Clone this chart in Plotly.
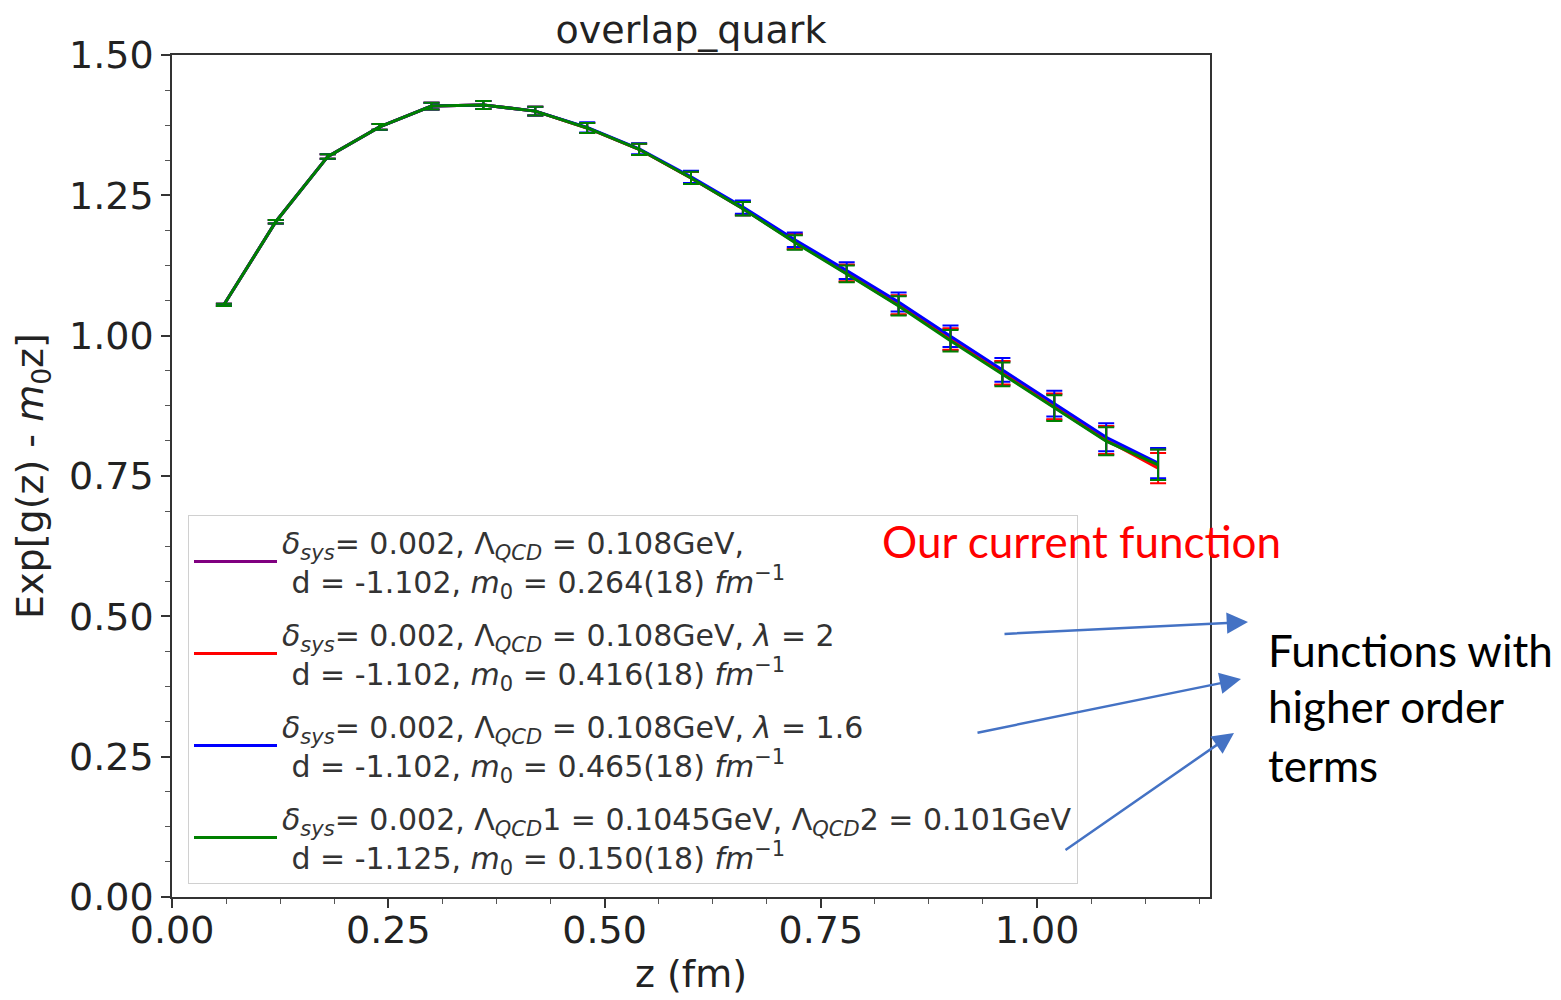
import plotly.graph_objects as go

z = [0.06, 0.12, 0.18, 0.24, 0.30, 0.36, 0.42, 0.48, 0.54, 0.60,
     0.66, 0.72, 0.78, 0.84, 0.90, 0.96, 1.02, 1.08, 1.14]

purple_vals = [1.055, 1.203, 1.319, 1.372, 1.409, 1.411, 1.400, 1.370, 1.332, 1.281,
               1.226, 1.167, 1.111, 1.054, 0.993, 0.933, 0.873, 0.813, 0.770]
red_vals = [1.055, 1.203, 1.319, 1.372, 1.409, 1.411, 1.400, 1.370, 1.332, 1.281,
            1.227, 1.168, 1.112, 1.055, 0.994, 0.934, 0.874, 0.814, 0.764]
blue_vals = [1.055, 1.203, 1.319, 1.372, 1.409, 1.411, 1.400, 1.371, 1.333, 1.283,
             1.229, 1.171, 1.116, 1.060, 0.999, 0.939, 0.879, 0.819, 0.773]
green_vals = [1.055, 1.203, 1.319, 1.372, 1.409, 1.411, 1.400, 1.370, 1.332, 1.281,
              1.226, 1.166, 1.110, 1.053, 0.991, 0.931, 0.871, 0.812, 0.770]
errors = [0.002, 0.003, 0.004, 0.005, 0.006, 0.007, 0.008, 0.009, 0.010, 0.011,
          0.012, 0.013, 0.015, 0.017, 0.019, 0.021, 0.023, 0.025, 0.027]

series_names = [
    "<i>δ</i><sub><i>sys</i></sub>= 0.002, Λ<sub><i>QCD</i></sub> = 0.108GeV,<br> d = -1.102, <i>m</i><sub>0</sub> = 0.264(18) <i>fm</i><sup>−1</sup>",
    "<i>δ</i><sub><i>sys</i></sub>= 0.002, Λ<sub><i>QCD</i></sub> = 0.108GeV, <i>λ</i> = 2<br> d = -1.102, <i>m</i><sub>0</sub> = 0.416(18) <i>fm</i><sup>−1</sup>",
    "<i>δ</i><sub><i>sys</i></sub>= 0.002, Λ<sub><i>QCD</i></sub> = 0.108GeV, <i>λ</i> = 1.6<br> d = -1.102, <i>m</i><sub>0</sub> = 0.465(18) <i>fm</i><sup>−1</sup>",
    "<i>δ</i><sub><i>sys</i></sub>= 0.002, Λ<sub><i>QCD</i></sub>1 = 0.1045GeV, Λ<sub><i>QCD</i></sub>2 = 0.101GeV<br> d = -1.125, <i>m</i><sub>0</sub> = 0.150(18) <i>fm</i><sup>−1</sup>",
]
series_values = [purple_vals, red_vals, blue_vals, green_vals]
series_colors = ["#800080", "#ff0000", "#0000ff", "#008000"]

x_ticks = [0.0, 0.25, 0.5, 0.75, 1.0]
x_tick_labels = ["0.00", "0.25", "0.50", "0.75", "1.00"]
y_ticks = [0.0, 0.25, 0.5, 0.75, 1.0, 1.25, 1.5]
y_tick_labels = ["0.00", "0.25", "0.50", "0.75", "1.00", "1.25", "1.50"]

fig = go.Figure()
for i, (name, vals, col) in enumerate(zip(series_names, series_values, series_colors)):
    fig.add_trace(go.Scatter(
        x=z, y=vals, mode="lines", name=name, legendgroup=f"g{i}",
        line=dict(color=col, width=3),
        error_y=dict(type="data", array=errors, visible=True,
                     color=col, thickness=2, width=8),
    ))

L, R, T, B = 172, 351, 55, 103
W, H = 1561, 1000
pw, ph = W - L - R, H - T - B

def px(xp):
    return (xp - L) / pw

def py(yp):
    return (H - B - yp) / ph

axis_font = dict(family="DejaVu Sans", size=38, color="#222")
fig.update_layout(
    width=W, height=H,
    margin=dict(l=L, r=R, t=T, b=B, autoexpand=False),
    paper_bgcolor="white", plot_bgcolor="white",
    title=dict(text="overlap_quark", xref="paper", x=0.5, xanchor="center",
               y=1 - 30 / H, yanchor="middle",
               font=dict(family="DejaVu Sans", size=38, color="#222")),
    font=dict(family="DejaVu Sans", color="#222"),
    showlegend=True,
    legend=dict(x=px(188), y=py(884), xanchor="left", yanchor="bottom",
                bgcolor="rgba(255,255,255,0.85)", bordercolor="#d0d0d0", borderwidth=1,
                font=dict(family="DejaVu Sans", size=30, color="#333"),
                itemwidth=83, tracegroupgap=11),
)
fig.update_xaxes(
    range=[0, 1.2], tickvals=x_ticks, ticktext=x_tick_labels,
    tickfont=axis_font, showgrid=False, zeroline=False,
    showline=True, linecolor="#333", linewidth=1.5, mirror=True,
    ticks="outside", ticklen=9, tickwidth=1.5, tickcolor="#333",
    ticklabelstandoff=-10,
    minor=dict(dtick=0.0625, tick0=0, ticks="outside", ticklen=5, tickwidth=1, tickcolor="#555"),
    title=dict(text="z (fm)", font=axis_font, standoff=8),
)
fig.update_yaxes(
    range=[0, 1.5], tickvals=y_ticks, ticktext=y_tick_labels,
    tickfont=axis_font, showgrid=False, zeroline=False,
    showline=True, linecolor="#333", linewidth=1.5, mirror=True,
    ticks="outside", ticklen=9, tickwidth=1.5, tickcolor="#333",
    minor=dict(dtick=0.0625, tick0=0, ticks="outside", ticklen=5, tickwidth=1, tickcolor="#555"),
    title=dict(text="Exp[g(z) - <i>m</i><sub>0</sub>z]", font=axis_font, standoff=14),
)

anno_font = "Lato"
fig.add_annotation(text="Our current function", xref="paper", yref="paper",
                   x=px(880), y=py(541), xanchor="left", yanchor="middle",
                   showarrow=False, font=dict(family=anno_font, size=44, color="#ff0000"))
for txt, yy in [("Functions with", 650), ("higher order", 706), ("terms", 765)]:
    fig.add_annotation(text=txt, xref="paper", yref="paper",
                       x=px(1266), y=py(yy), xanchor="left", yanchor="middle",
                       showarrow=False, font=dict(family=anno_font, size=44, color="black"))

arrow_col = "#4472C4"
for (tx, ty), (hx, hy) in [((1003, 634), (1248, 622)),
                           ((976, 733), (1241, 679)),
                           ((1064, 851), (1234, 733))]:
    fig.add_annotation(text="", xref="paper", yref="paper",
                       x=px(hx), y=py(hy), ax=tx - hx, ay=ty - hy,
                       showarrow=True, arrowhead=2, arrowsize=1.7,
                       arrowwidth=2.5, arrowcolor=arrow_col)

fig.write_html("out.html")
